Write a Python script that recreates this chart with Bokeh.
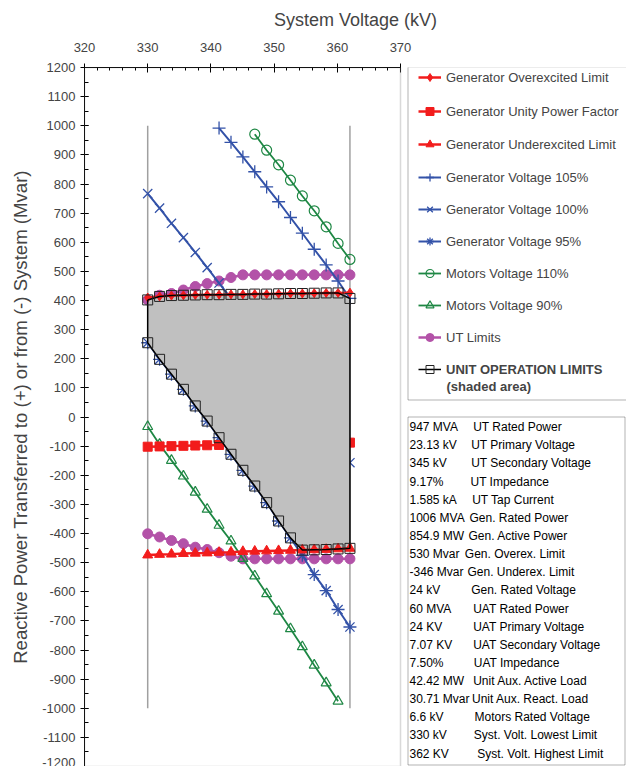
import numpy as np
from bokeh.plotting import figure
from bokeh.models import (SingleIntervalTicker, Legend, LegendItem, Label, LabelSet,
                          BoxAnnotation, ColumnDataSource, Range1d, NumeralTickFormatter)
from bokeh.core.properties import value
from bokeh.embed import file_html
from bokeh.resources import INLINE

# ---------------- data ----------------
volt = [330.0, 331.88, 333.76, 335.65, 337.53, 339.41, 341.29, 343.18, 345.06,
        346.94, 348.82, 350.71, 352.59, 354.47, 356.35, 358.24, 360.12, 362.0]

over_lim = [410, 414, 417, 418, 419, 420, 420, 421, 421, 422, 422, 423, 424, 424, 425, 426, 426, 427]
unity_pf = [-102, -101, -100, -99, -98, -97, -96, -96, -95, -94, -93, -93, -92, -91, -90, -90, -89, -88]
under_lim = [-474, -472, -471, -469, -468, -467, -465, -464, -462, -461, -460, -459, -458, -457, -456, -455, -453, -451]

gen105_volt = volt[6:]
gen105 = [992, 943, 893, 842, 790, 739, 685, 631, 576, 522, 467, 407]
gen100 = [767, 717, 665, 616, 565, 513, 460, 407, 353, 299, 244, 189, 133, 77, 20, -38, -97, -157]
gen95 = [255, 198, 147, 95, 38, -14, -71, -128, -183, -237, -294, -357, -415, -475, -541, -596, -661, -721]

mot110_volt = volt[9:]
mot110 = [971, 916, 866, 813, 759, 708, 653, 596, 541]
mot90_volt = volt[:17]
mot90 = [-33, -94, -149, -203, -258, -317, -372, -426, -486, -546, -607, -667, -727, -789, -852, -913, -976]

ut_upper = [402, 418, 424, 436, 448, 458, 467, 479, 488, 488, 488, 488, 488, 488, 488, 488, 488, 488]
ut_lower = [-401, -412, -424, -435, -447, -455, -466, -478, -487, -487, -487, -487, -487, -487, -487, -487, -487, -487]

limit_volt = [330, 362]
limit_q = [-1000, 1000]

x_ticks_range = (320, 370)
y_ticks_range = (-1200, 1200)

param_values = ["947 MVA", "23.13 kV", "345 kV", "9.17%", "1.585 kA", "1006 MVA", "854.9 MW",
                "530 Mvar", "-346 Mvar", "24 kV", "60 MVA", "24 KV", "7.07 KV", "7.50%",
                "42.42 MW", "30.71 Mvar", "6.6 kV", "330 kV", "362 KV"]
param_names = ["UT Rated Power", "UT Primary Voltage", "UT Secondary Voltage", "UT Impedance",
               "UT Tap Current", "Gen. Rated Power", "Gen. Active Power", "Gen. Overex. Limit",
               "Gen. Underex. Limit", "Gen. Rated Voltage", "UAT Rated Power", "UAT Primary Voltage",
               "UAT Secondary Voltage", "UAT Impedance", "Unit Aux. Active Load",
               "Unit Aux. React. Load", "Motors Rated Voltage", "Syst. Volt. Lowest Limit",
               "Syst. Volt. Highest Limit"]

# unit operation limits polygon, built from the series
top = np.minimum(np.array(ut_upper, float), np.array(over_lim, float))
top[6:] = np.minimum(top[6:], np.array(gen105, float))
bottom = np.maximum(np.array(gen95, float), np.array(under_lim, float))
uol_x = list(volt) + list(volt[::-1]) + [volt[0]]
uol_y = list(top) + list(bottom[::-1]) + [top[0]]

# ---------------- styling / layout ----------------
FONT = "Liberation Sans"
RED = "#F21C1C"
BLUE = "#3352A8"
GREEN = "#1E8744"
MAG = "#B352A8"

W, H = 626, 766
FL, FT = 84, 67            # frame left / top (page == canvas, body margin is 0)
PLOT_W = 316               # pixel width of the 320..370 kV axis
x_end = x_ticks_range[0] + (W - FL) * (x_ticks_range[1] - x_ticks_range[0]) / PLOT_W

p = figure(width=W, height=H, x_range=Range1d(x_ticks_range[0], x_end),
           y_range=Range1d(*y_ticks_range),
           x_axis_location="above", output_backend="svg", toolbar_location=None,
           min_border_left=FL, min_border_right=0, min_border_top=FT, min_border_bottom=0)
p.xgrid.visible = False
p.ygrid.visible = False
p.outline_line_color = None

xa = p.xaxis[0]
xa.bounds = x_ticks_range
xa.ticker = SingleIntervalTicker(interval=10, num_minor_ticks=5)
xa.axis_label = "System Voltage (kV)"
xa.axis_label_text_font = FONT
xa.axis_label_text_font_size = "18px"
xa.axis_label_text_font_style = "normal"
xa.axis_label_standoff = 10
xa.major_label_text_font = FONT
xa.major_label_text_font_size = "13px"
xa.major_label_standoff = 12
xa.major_tick_in = 5
xa.major_tick_out = 4
xa.minor_tick_in = 3
xa.minor_tick_out = 0
xa.axis_line_color = "black"
xa.major_tick_line_color = "black"
xa.minor_tick_line_color = "black"

ya = p.yaxis[0]
ya.ticker = SingleIntervalTicker(interval=100, num_minor_ticks=2)
ya.formatter = NumeralTickFormatter(format="0")
ya.axis_label = "Reactive Power Transferred to (+) or from (-) System (Mvar)"
ya.axis_label_text_font = FONT
ya.axis_label_text_font_size = "18.6px"
ya.axis_label_text_font_style = "normal"
ya.axis_label_standoff = 8
ya.major_label_text_font = FONT
ya.major_label_text_font_size = "13px"
ya.major_label_standoff = 5
ya.major_tick_in = 4
ya.major_tick_out = 4
ya.minor_tick_in = 4
ya.minor_tick_out = 0
ya.axis_line_color = "black"
ya.major_tick_line_color = "black"
ya.minor_tick_line_color = "black"

# plot-area outline (gray) for the 320..370 region
p.add_layout(BoxAnnotation(left=x_ticks_range[0], right=x_ticks_range[1],
                           bottom=y_ticks_range[0], top=y_ticks_range[1],
                           fill_alpha=0, line_color="#808080", line_width=1.5))

# system voltage limit lines
p.segment(x0=limit_volt, y0=[limit_q[0]] * 2, x1=limit_volt, y1=[limit_q[1]] * 2,
          line_color="#A0A0A0", line_width=1.5)

# lines drawn behind the shaded area
r_ut_l = p.line(volt, ut_upper, line_color=MAG, line_width=2.5)
r_ut_s = p.scatter(volt, ut_upper, marker="circle", size=10, fill_color=MAG, line_color=MAG)
p.line(volt, ut_lower, line_color=MAG, line_width=2.5)
p.scatter(volt, ut_lower, marker="circle", size=10, fill_color=MAG, line_color=MAG)

r_m110_l = p.line(mot110_volt, mot110, line_color=GREEN, line_width=1.8)
r_m110_s = p.scatter(mot110_volt, mot110, marker="circle", size=10, fill_alpha=0,
                     line_color=GREEN, line_width=1.2)
r_m90_l = p.line(mot90_volt, mot90, line_color=GREEN, line_width=1.8)
r_m90_s = p.scatter(mot90_volt, mot90, marker="triangle", size=10, fill_alpha=0,
                    line_color=GREEN, line_width=1.2)

r_g105_l = p.line(gen105_volt, gen105, line_color=BLUE, line_width=2)
r_g105_s = p.scatter(gen105_volt, gen105, marker="cross", size=13, line_color=BLUE, line_width=1.3)
r_g100_l = p.line(volt, gen100, line_color=BLUE, line_width=2)
r_g100_s = p.scatter(volt, gen100, marker="x", size=13, line_color=BLUE, line_width=1.3)
r_g95_l = p.line(volt, gen95, line_color=BLUE, line_width=2)
r_g95_s = p.scatter(volt, gen95, marker="asterisk", size=13, line_color=BLUE, line_width=1.3)

r_up_l = p.line(volt, unity_pf, line_color=RED, line_width=2.5)
r_up_s = p.scatter(volt, unity_pf, marker="square", size=9, fill_color=RED, line_color=RED)

# shaded area
p.patch(uol_x, uol_y, fill_color="#C0C0C0", line_alpha=0)

r_ov_l = p.line(volt, over_lim, line_color=RED, line_width=2.5)
r_ov_s = p.scatter(volt, over_lim, marker="diamond", size=9, fill_color=RED, line_color=RED)
r_un_l = p.line(volt, under_lim, line_color=RED, line_width=2.5)
r_un_s = p.scatter(volt, under_lim, marker="triangle", size=10, fill_color=RED, line_color=RED)

r_uol_l = p.line(uol_x, uol_y, line_color="black", line_width=1.5)
r_uol_s = p.scatter(uol_x[:-1], uol_y[:-1], marker="square", size=10, fill_alpha=0,
                    line_color="#222222", line_width=1)

# ---------------- legend ----------------
FB_PAGE = H          # frame bottom (page y)


def sx(px):
    return px - FL


def sy(py):
    return FB_PAGE - py


entries = [
    ("Generator Overexcited Limit", [r_ov_l, r_ov_s]),
    ("Generator Unity Power Factor", [r_up_l, r_up_s]),
    ("Generator Underexcited Limit", [r_un_l, r_un_s]),
    ("Generator Voltage 105%", [r_g105_l, r_g105_s]),
    ("Generator Voltage 100%", [r_g100_l, r_g100_s]),
    ("Generator Voltage 95%", [r_g95_l, r_g95_s]),
    ("Motors Voltage 110%", [r_m110_l, r_m110_s]),
    ("Motors Voltage 90%", [r_m90_l, r_m90_s]),
    ("UT Limits", [r_ut_l, r_ut_s]),
    ("UNIT OPERATION LIMITS", [r_uol_l, r_uol_s]),
]
leg_centers = [77, 111, 144, 177, 209, 241, 273, 305, 337, 369]
ITEM_H = 20
for i, (lab, rs) in enumerate(entries):
    leg = Legend(items=[LegendItem(label=lab, renderers=rs)],
                 location=(sx(418), sy(leg_centers[i] + ITEM_H / 2)),
                 padding=0, margin=0, spacing=0, glyph_width=23, glyph_height=ITEM_H,
                 label_height=ITEM_H, label_standoff=5, border_line_alpha=0,
                 background_fill_alpha=0, label_text_font=FONT, label_text_font_size="13px",
                 label_text_font_style="bold" if i == 9 else "normal")
    p.add_layout(leg)

p.add_layout(Label(x=sx(446), y=sy(386), x_units="screen", y_units="screen",
                   text="(shaded area)", text_font=FONT, text_font_size="13px",
                   text_font_style="bold", text_baseline="middle"))

box_kw = dict(left_units="screen", right_units="screen", top_units="screen",
              bottom_units="screen", fill_alpha=0, line_color="black", line_width=1)
p.add_layout(BoxAnnotation(left=sx(407.5), right=sx(W + 20), top=sy(66.5), bottom=sy(399.5), **box_kw))
p.add_layout(BoxAnnotation(left=sx(407.5), right=sx(624.5), top=sy(416.5), bottom=sy(764.5), **box_kw))

# ---------------- parameter box ----------------
name_x = [472.7, 470.7, 470.7, 470, 471.7, 469, 468, 464.3, 467, 470.7, 472.7, 472.7,
          472.7, 473.3, 472.7, 471.5, 474, 473.3, 476.7]
line_y = [426.7 + 18.13 * i for i in range(len(param_values))]
src = ColumnDataSource(dict(
    vx=[sx(409)] * len(param_values),
    nx=[sx(v) for v in name_x],
    y=[sy(v) for v in line_y],
    val=param_values, name=param_names))
for col, xcol in (("val", "vx"), ("name", "nx")):
    p.add_layout(LabelSet(x=xcol, y="y", text=col, source=src, x_units="screen", y_units="screen",
                          text_font=value(FONT), text_font_size=value("12px"),
                          text_baseline="middle", text_color="black"))

open("out.html", "w").write(file_html(p, INLINE))
